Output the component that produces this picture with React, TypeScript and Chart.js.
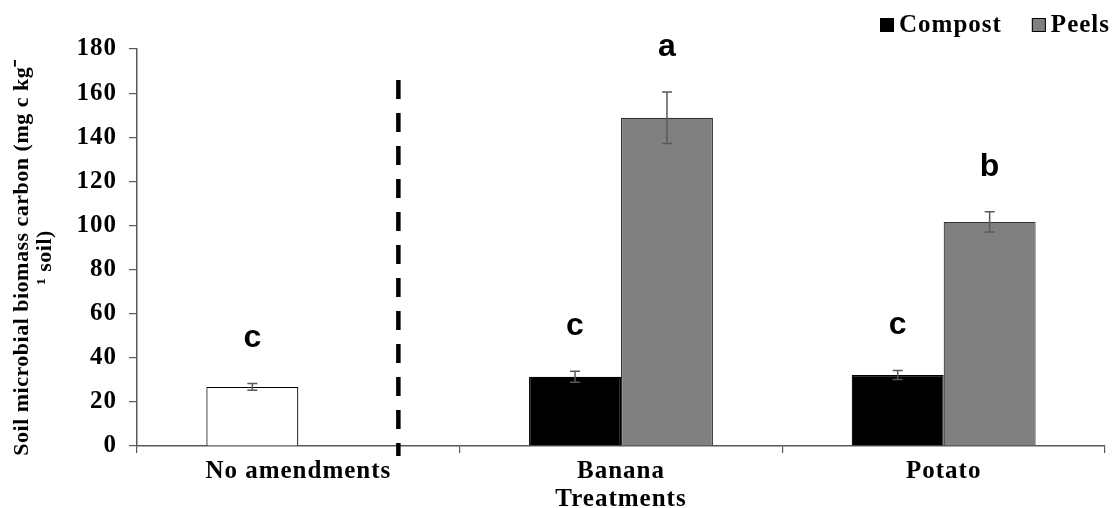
import React, { useEffect, useRef } from "react";
import { Chart, registerables } from "chart.js";

Chart.register(...registerables);

const categories = ["No amendments", "Banana", "Potato"];
const compostValues: (number | null)[] = [26.8, 31.4, 32.2];
const compostErrors: (number | null)[] = [1.5, 2.5, 2.0];
const peelsValues: (number | null)[] = [null, 148.8, 101.6];
const peelsErrors: (number | null)[] = [null, 11.7, 4.6];
const compostLetters = ["c", "c", "c"];
const peelsLetters = ["", "a", "b"];
const compostFill = ["#ffffff", "#000000", "#000000"];
const yMin = 0;
const yMax = 180;
const yStep = 20;
const dividerPosition = 0.31; // in category units, between "No amendments" and "Banana"
const dividerTopValue = 166;
const legendLabels = ["Compost", "Peels"];
const legendColors = ["#000000", "#808080"];
const xTitle = "Treatments";
const yTitleLines = ["Soil microbial biomass carbon (mg c kg\u207B", "\u00B9 soil)"];

const SERIF = "'Liberation Serif', 'Times New Roman', serif";
const SANS = "'Liberation Sans', Arial, sans-serif";
const SPACING = "1px";
const FONT_SIZE = 25;

const errorsByDataset = [compostErrors, peelsErrors];
const lettersByDataset = [compostLetters, peelsLetters];

function setSpacing(ctx: any, v: string) {
  try {
    ctx.letterSpacing = v;
  } catch (e) {}
}

const annotationPlugin = {
  id: "annotations",
  beforeLayout(chart: any) {
    setSpacing(chart.ctx, SPACING);
  },
  beforeDraw(chart: any) {
    setSpacing(chart.ctx, SPACING);
  },
  afterDatasetsDraw(chart: any) {
    const ctx = chart.ctx;
    const y = chart.scales.y;
    chart.data.datasets.forEach((ds: any, di: number) => {
      const meta = chart.getDatasetMeta(di);
      meta.data.forEach((el: any, i: number) => {
        const v = ds.data[i];
        const e = errorsByDataset[di][i];
        if (v == null || e == null) return;
        const x = el.x;
        const yt = y.getPixelForValue(v + e);
        const yb = y.getPixelForValue(v - e);
        ctx.save();
        ctx.strokeStyle = "#595959";
        ctx.lineWidth = 1.5;
        ctx.beginPath();
        ctx.moveTo(x, yt);
        ctx.lineTo(x, yb);
        ctx.moveTo(x - 5, yt);
        ctx.lineTo(x + 5, yt);
        ctx.moveTo(x - 5, yb);
        ctx.lineTo(x + 5, yb);
        ctx.stroke();
        const letter = lettersByDataset[di][i];
        if (letter) {
          setSpacing(ctx, "0px");
          ctx.fillStyle = "#000";
          ctx.font = `bold 32px ${SANS}`;
          ctx.textAlign = "center";
          ctx.textBaseline = "middle";
          ctx.fillText(letter, x, yt - 45);
        }
        ctx.restore();
      });
    });
  },
  afterDraw(chart: any) {
    const ctx = chart.ctx;
    const xs = chart.scales.x;
    const ys = chart.scales.y;
    const p0 = xs.getPixelForValue(0);
    const p1 = xs.getPixelForValue(1);
    const dx = p0 + dividerPosition * (p1 - p0);
    ctx.save();
    ctx.strokeStyle = "#000";
    ctx.lineWidth = 4.5;
    ctx.setLineDash([19, 14]);
    ctx.beginPath();
    ctx.moveTo(dx, ys.getPixelForValue(dividerTopValue));
    ctx.lineTo(dx, ys.getPixelForValue(yMin) + 10);
    ctx.stroke();
    ctx.setLineDash([]);

    // y-axis title
    const cyTitle = (ys.top + ys.bottom) / 2 + 10;
    setSpacing(ctx, "0.5px");
    ctx.font = `bold 22px ${SERIF}`;
    ctx.fillStyle = "#000";
    ctx.textAlign = "center";
    ctx.textBaseline = "middle";
    yTitleLines.forEach((line, i) => {
      ctx.save();
      ctx.translate(22 + i * 23, cyTitle);
      ctx.rotate(-Math.PI / 2);
      ctx.fillText(line, 0, 0);
      ctx.restore();
    });

    // legend
    setSpacing(ctx, SPACING);
    ctx.font = `bold ${FONT_SIZE}px ${SERIF}`;
    ctx.textBaseline = "middle";
    ctx.textAlign = "left";
    const box = 14;
    const gapBoxText = 5;
    const gapItems = 30;
    const widths = legendLabels.map((t) => ctx.measureText(t).width);
    let total = 0;
    widths.forEach((w, i) => {
      total += box + gapBoxText + w + (i > 0 ? gapItems : 0);
    });
    let cx = 1110 - total;
    const cy = 25;
    legendLabels.forEach((t, i) => {
      ctx.fillStyle = legendColors[i];
      ctx.fillRect(cx, cy - box / 2, box, box);
      ctx.strokeStyle = "#000";
      ctx.lineWidth = 1;
      ctx.strokeRect(cx + 0.5, cy - box / 2 + 0.5, box - 1, box - 1);
      ctx.fillStyle = "#000";
      ctx.fillText(t, cx + box + gapBoxText, cy + 1);
      cx += box + gapBoxText + widths[i] + gapItems;
    });
    ctx.restore();
  },
};

export default function App() {
  const canvasRef = useRef<HTMLCanvasElement | null>(null);

  useEffect(() => {
    if (!canvasRef.current) return;
    const chart = new Chart(canvasRef.current, {
      type: "bar",
      data: {
        labels: categories,
        datasets: [
          {
            label: legendLabels[0],
            data: compostValues,
            backgroundColor: compostFill,
            borderColor: "#000000",
            borderWidth: 1.2,
          },
          {
            label: legendLabels[1],
            data: peelsValues,
            backgroundColor: "#808080",
            borderColor: "#333333",
            borderWidth: 1.2,
          },
        ],
      },
      options: {
        animation: false,
        responsive: true,
        maintainAspectRatio: false,
        layout: { padding: { top: 49, right: 9, left: 0, bottom: 0 } },
        plugins: {
          legend: { display: false },
          tooltip: { enabled: false },
        },
        datasets: {
          bar: { barPercentage: 1, categoryPercentage: 0.57 },
        },
        scales: {
          x: {
            grid: {
              display: true,
              drawOnChartArea: false,
              tickLength: 7,
              color: "#595959",
              lineWidth: 1.2,
            },
            border: { display: true, color: "#595959", width: 1.5 },
            ticks: {
              color: "#000",
              font: { family: SERIF, size: FONT_SIZE, weight: "bold" },
              padding: 4,
              maxRotation: 0,
            },
            title: {
              display: true,
              text: xTitle,
              color: "#000",
              font: { family: SERIF, size: FONT_SIZE, weight: "bold", lineHeight: 1.1 },
              padding: { top: 0, bottom: -5 },
            },
            afterFit(scale: any) {
              scale.height = 62;
            },
          },
          y: {
            min: yMin,
            max: yMax,
            ticks: {
              stepSize: yStep,
              color: "#000",
              font: { family: SERIF, size: FONT_SIZE, weight: "bold" },
              padding: 12,
            },
            grid: {
              display: true,
              drawOnChartArea: false,
              tickLength: 8,
              color: "#595959",
              lineWidth: 1.2,
            },
            border: { display: true, color: "#595959", width: 1.5 },
            title: { display: false },
            afterFit(scale: any) {
              scale.width = 137;
            },
          },
        },
      },
      plugins: [annotationPlugin],
    });
    return () => chart.destroy();
  }, []);

  return (
    <div style={{ position: "absolute", left: 0, top: 0, width: 1114, height: 508, background: "#fff" }}>
      <canvas ref={canvasRef} />
    </div>
  );
}
